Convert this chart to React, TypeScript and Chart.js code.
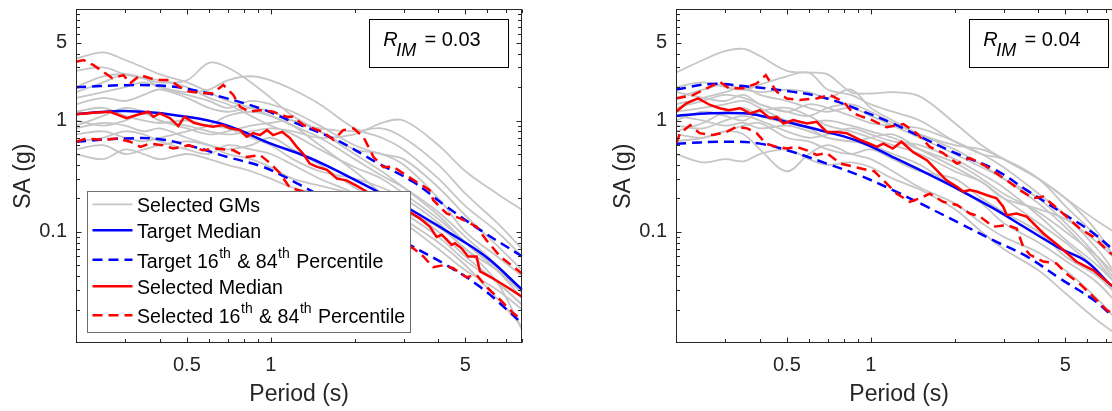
import React, { useEffect, useRef } from "react";
import { Chart, registerables } from "chart.js";
Chart.register(...registerables);

const FONT = "'Liberation Sans', Arial, Helvetica, sans-serif";
Chart.defaults.font.family = FONT;

// ---------- tick values ----------
const X_MAJOR = [0.5, 1, 5];
const X_MINOR = [0.2, 0.3, 0.4, 0.6, 0.7, 0.8, 0.9, 2, 3, 4, 6, 7, 8];
const Y_MAJOR = [0.1, 1, 5];
const Y_MINOR = [0.02, 0.03, 0.04, 0.05, 0.06, 0.07, 0.08, 0.09, 0.2, 0.3, 0.4, 0.5, 0.6, 0.7, 0.8, 0.9, 2, 3, 4, 6, 7, 8, 9];

// ---------- common period grid for selected ground motions ----------
const GM_T = [0.2, 0.25, 0.3, 0.35, 0.4, 0.5, 0.6, 0.7, 0.85, 1, 1.2, 1.5, 2, 2.5, 3, 4, 5, 6.5, 8];

// ================= LEFT PANEL (R_IM = 0.03) =================
const gmL = [
  [3.6, 4.1, 3.5, 3.0, 2.6, 2.2, 1.8, 1.5, 1.3, 1.1, 0.9, 0.7, 0.45, 0.32, 0.25, 0.15, 0.09, 0.05, 0.03],
  [2.0, 2.5, 2.6, 2.4, 2.2, 2.3, 3.3, 3.0, 2.2, 1.6, 1.1, 0.8, 0.5, 0.35, 0.25, 0.14, 0.08, 0.045, 0.028],
  [1.6, 1.8, 2.0, 2.2, 2.0, 1.8, 1.9, 2.3, 2.5, 2.3, 1.9, 1.4, 0.85, 0.7, 0.55, 0.3, 0.17, 0.1, 0.06],
  [0.9, 1.1, 1.3, 1.2, 1.0, 0.9, 0.8, 0.75, 0.8, 0.85, 0.8, 0.7, 0.75, 0.95, 1.0, 0.6, 0.35, 0.22, 0.157],
  [1.4, 1.6, 1.5, 1.7, 1.9, 1.6, 1.3, 1.2, 1.3, 1.2, 1.0, 0.85, 0.8, 0.85, 0.7, 0.4, 0.22, 0.12, 0.07],
  [1.2, 1.3, 1.1, 1.0, 0.95, 1.0, 0.9, 0.85, 0.7, 0.6, 0.45, 0.35, 0.3, 0.25, 0.2, 0.12, 0.07, 0.045, 0.03],
  [0.75, 0.8, 0.7, 0.65, 0.7, 0.8, 0.9, 1.1, 1.2, 1.1, 0.9, 0.6, 0.35, 0.22, 0.15, 0.09, 0.055, 0.035, 0.022],
  [0.55, 0.6, 0.5, 0.55, 0.6, 0.65, 0.6, 0.55, 0.6, 0.7, 0.55, 0.4, 0.25, 0.18, 0.13, 0.08, 0.05, 0.025, 0.014],
  [0.5, 0.45, 0.55, 0.5, 0.45, 0.5, 0.45, 0.4, 0.35, 0.3, 0.25, 0.22, 0.2, 0.17, 0.15, 0.11, 0.07, 0.035, 0.013],
  [2.8, 3.0, 2.6, 2.4, 2.3, 2.0, 1.6, 1.4, 1.1, 0.9, 0.75, 0.55, 0.38, 0.3, 0.22, 0.13, 0.08, 0.045, 0.025],
  [1.0, 0.9, 1.0, 1.15, 1.0, 0.85, 0.75, 0.8, 0.9, 0.95, 1.0, 0.8, 0.55, 0.5, 0.4, 0.2, 0.1, 0.06, 0.04],
  [0.65, 0.7, 0.8, 0.75, 0.65, 0.55, 0.5, 0.6, 0.55, 0.5, 0.4, 0.3, 0.22, 0.15, 0.12, 0.07, 0.045, 0.03, 0.02],
  [1.8, 2.2, 2.6, 2.4, 2.0, 1.7, 1.5, 1.3, 1.5, 1.4, 1.2, 0.9, 0.6, 0.5, 0.45, 0.25, 0.14, 0.075, 0.045],
  [0.85, 0.95, 0.9, 0.8, 0.85, 0.7, 0.6, 0.5, 0.45, 0.38, 0.3, 0.26, 0.22, 0.2, 0.16, 0.1, 0.06, 0.035, 0.022],
];

const tgtMedT_L = [0.2, 0.3, 0.5, 0.7, 1.0, 1.3, 1.6, 2.3, 3.2, 4.8, 6, 8];
const tgtMed_L = [1.14, 1.22, 1.08, 0.9, 0.62, 0.49, 0.39, 0.245, 0.157, 0.085, 0.058, 0.03];
const tgtHiT_L = [0.2, 0.3, 0.4, 0.5, 0.66, 0.92, 1.2, 1.72, 2.4, 3.25, 4.28, 5.64, 8];
const tgtHi_L = [1.99, 2.08, 2.06, 1.93, 1.64, 1.28, 0.97, 0.67, 0.42, 0.28, 0.168, 0.104, 0.06];
const tgtLoT_L = [0.2, 0.3, 0.4, 0.53, 0.7, 0.92, 1.1, 1.27, 2.0, 3.16, 4.28, 5.64, 8];
const tgtLo_L = [0.645, 0.69, 0.68, 0.58, 0.47, 0.39, 0.32, 0.265, 0.145, 0.076, 0.05, 0.032, 0.015];

const selMedT_L = [0.2, 0.231, 0.265, 0.304, 0.33, 0.364, 0.379, 0.4, 0.435, 0.466, 0.49, 0.53, 0.57, 0.62, 0.67, 0.715, 0.776, 0.82, 0.866, 0.915, 0.97, 1.02, 1.1, 1.17, 1.24, 1.31, 1.38, 1.46, 1.59, 1.73, 1.87, 2.03, 2.21, 2.6, 3.16, 3.43, 3.73, 3.94, 4.11, 4.28, 4.46, 4.58, 4.84, 5.11, 5.48, 5.64, 6.29, 7.02, 8];
const selMed_L = [1.14, 1.175, 1.2, 1.05, 1.12, 1.2, 1.08, 1.16, 1.05, 0.89, 1.08, 0.955, 0.91, 0.88, 0.91, 0.85, 0.82, 0.715, 0.77, 0.74, 0.82, 0.74, 0.79, 0.7, 0.58, 0.5, 0.41, 0.385, 0.36, 0.3, 0.29, 0.26, 0.23, 0.19, 0.15, 0.132, 0.111, 0.09, 0.094, 0.085, 0.076, 0.079, 0.071, 0.06, 0.06, 0.044, 0.038, 0.032, 0.026];
const selHiT_L = [0.2, 0.213, 0.231, 0.25, 0.27, 0.296, 0.313, 0.34, 0.369, 0.4, 0.435, 0.47, 0.51, 0.57, 0.62, 0.676, 0.734, 0.776, 0.84, 0.915, 1.02, 1.14, 1.2, 1.31, 1.42, 1.54, 1.68, 1.82, 1.98, 2.15, 2.34, 2.54, 2.75, 2.99, 3.34, 3.72, 3.83, 4.28, 4.78, 5.48, 5.95, 6.66, 8];
const selHi_L = [3.38, 3.5, 3.15, 2.75, 2.4, 2.56, 2.16, 2.56, 2.4, 2.31, 2.31, 2.01, 1.82, 1.76, 1.76, 2.09, 1.7, 1.33, 1.2, 1.24, 1.2, 1.08, 1.08, 0.91, 0.85, 0.79, 0.67, 0.82, 0.85, 0.715, 0.47, 0.38, 0.385, 0.335, 0.28, 0.237, 0.193, 0.146, 0.132, 0.111, 0.084, 0.06, 0.042];
const selLoT_L = [0.2, 0.218, 0.25, 0.28, 0.313, 0.34, 0.369, 0.41, 0.447, 0.51, 0.57, 0.64, 0.734, 0.82, 0.915, 1.0, 1.08, 1.17, 1.3, 1.6, 2.0, 2.5, 3.25, 3.53, 3.83, 4.16, 4.52, 5.04, 5.48, 5.95, 6.66, 7.43, 8];
const selLo_L = [0.645, 0.69, 0.67, 0.69, 0.645, 0.58, 0.62, 0.6, 0.56, 0.6, 0.54, 0.56, 0.54, 0.47, 0.49, 0.41, 0.335, 0.25, 0.23, 0.18, 0.135, 0.1, 0.071, 0.06, 0.048, 0.05, 0.047, 0.039, 0.041, 0.032, 0.0245, 0.0185, 0.016];

// ================= RIGHT PANEL (R_IM = 0.04) =================
const gmR = [
  [2.7, 3.5, 4.2, 4.4, 3.8, 2.8, 2.7, 2.6, 1.8, 1.75, 1.8, 1.65, 0.95, 0.6, 0.45, 0.3, 0.2, 0.125, 0.09],
  [2.0, 2.2, 2.0, 1.9, 2.1, 2.5, 2.7, 1.9, 1.7, 1.4, 1.2, 1.0, 0.65, 0.5, 0.45, 0.3, 0.17, 0.09, 0.05],
  [1.6, 1.9, 2.1, 1.9, 1.8, 1.9, 1.8, 1.6, 1.9, 1.3, 1.0, 0.75, 0.55, 0.4, 0.3, 0.2, 0.12, 0.06, 0.03],
  [1.3, 1.5, 1.7, 1.6, 1.4, 1.2, 1.4, 1.3, 1.1, 0.95, 0.9, 0.85, 0.65, 0.5, 0.38, 0.22, 0.14, 0.07, 0.035],
  [1.2, 1.3, 1.4, 1.5, 1.3, 1.0, 0.95, 1.0, 0.9, 0.8, 0.7, 0.55, 0.42, 0.3, 0.22, 0.15, 0.1, 0.06, 0.035],
  [1.0, 1.2, 1.1, 1.0, 1.2, 1.3, 1.1, 0.9, 0.8, 0.7, 0.6, 0.5, 0.35, 0.28, 0.2, 0.12, 0.08, 0.045, 0.025],
  [0.9, 0.85, 1.0, 1.1, 1.0, 0.8, 0.7, 0.75, 0.85, 0.75, 0.65, 0.6, 0.45, 0.33, 0.25, 0.14, 0.085, 0.05, 0.03],
  [0.5, 0.42, 0.45, 0.43, 0.5, 0.55, 0.45, 0.4, 0.42, 0.38, 0.3, 0.24, 0.16, 0.1, 0.07, 0.045, 0.028, 0.016, 0.011],
  [0.75, 0.7, 0.8, 0.75, 0.55, 0.35, 0.5, 0.6, 0.5, 0.45, 0.35, 0.25, 0.18, 0.12, 0.09, 0.065, 0.045, 0.025, 0.014],
  [1.4, 1.6, 1.8, 2.0, 1.7, 1.5, 1.3, 1.2, 1.3, 1.1, 0.9, 0.7, 0.5, 0.38, 0.3, 0.18, 0.11, 0.055, 0.028],
  [1.1, 1.0, 0.9, 0.95, 0.85, 0.9, 0.8, 0.7, 0.65, 0.6, 0.5, 0.4, 0.25, 0.18, 0.12, 0.08, 0.055, 0.035, 0.02],
  [0.65, 0.7, 0.8, 0.9, 0.95, 0.7, 0.65, 0.55, 0.5, 0.55, 0.45, 0.35, 0.3, 0.2, 0.15, 0.1, 0.06, 0.04, 0.024],
  [1.8, 1.6, 1.5, 1.7, 1.4, 1.2, 1.1, 1.3, 1.4, 1.2, 0.95, 0.75, 0.6, 0.55, 0.45, 0.3, 0.2, 0.1, 0.045],
  [0.8, 0.95, 1.2, 1.3, 1.1, 0.95, 0.85, 0.7, 0.65, 0.7, 0.75, 0.55, 0.38, 0.28, 0.2, 0.16, 0.13, 0.08, 0.05],
];

const tgtMedT_R = [0.2, 0.265, 0.35, 0.42, 0.527, 0.695, 0.915, 1.2, 1.59, 2.09, 2.75, 3.63, 4.78, 5.95, 7.2, 8];
const tgtMed_R = [1.1, 1.16, 1.16, 1.08, 0.94, 0.79, 0.645, 0.47, 0.335, 0.237, 0.163, 0.107, 0.071, 0.054, 0.034, 0.028];
const tgtHiT_R = [0.2, 0.265, 0.35, 0.527, 0.695, 0.915, 1.2, 1.59, 2.09, 2.75, 3.63, 4.78, 6.3, 8];
const tgtHi_R = [1.9, 2.13, 2.04, 1.81, 1.58, 1.24, 0.94, 0.67, 0.49, 0.37, 0.237, 0.152, 0.097, 0.058];
const tgtLoT_R = [0.2, 0.3, 0.4, 0.527, 0.695, 0.915, 1.2, 1.59, 2.09, 2.75, 3.63, 4.78, 6.3, 7.2, 8];
const tgtLo_R = [0.62, 0.645, 0.62, 0.52, 0.41, 0.32, 0.237, 0.168, 0.119, 0.084, 0.06, 0.038, 0.0245, 0.0185, 0.015];

const selMedT_R = [0.2, 0.218, 0.24, 0.265, 0.287, 0.31, 0.34, 0.37, 0.4, 0.435, 0.46, 0.486, 0.527, 0.59, 0.64, 0.695, 0.755, 0.82, 0.915, 1.02, 1.05, 1.11, 1.2, 1.29, 1.42, 1.59, 1.72, 1.87, 2.04, 2.15, 2.27, 2.4, 2.6, 2.83, 2.99, 3.08, 3.34, 3.63, 4.16, 4.78, 5.47, 6.3, 7.2, 8];
const selMed_R = [1.2, 1.43, 1.58, 1.38, 1.29, 1.24, 1.29, 1.16, 1.24, 1.05, 1.08, 0.94, 1.01, 0.94, 0.975, 0.79, 0.79, 0.77, 0.67, 0.6, 0.58, 0.62, 0.56, 0.645, 0.52, 0.44, 0.36, 0.29, 0.254, 0.23, 0.237, 0.23, 0.214, 0.2, 0.168, 0.141, 0.146, 0.137, 0.097, 0.073, 0.054, 0.045, 0.034, 0.028];
const selHiT_R = [0.2, 0.231, 0.258, 0.287, 0.31, 0.349, 0.39, 0.42, 0.46, 0.5, 0.556, 0.64, 0.714, 0.8, 0.866, 0.915, 1.02, 1.14, 1.31, 1.46, 1.63, 1.82, 2.04, 2.27, 2.54, 2.83, 3.08, 3.43, 3.83, 4.16, 4.52, 5.04, 5.63, 6.3, 7.2, 8];
const selHi_R = [1.58, 1.7, 1.95, 2.23, 1.95, 1.95, 2.16, 2.56, 1.81, 1.58, 1.53, 1.58, 1.7, 1.47, 1.16, 1.1, 1.0, 0.87, 0.93, 0.77, 0.58, 0.51, 0.41, 0.46, 0.4, 0.335, 0.29, 0.237, 0.2, 0.207, 0.174, 0.137, 0.107, 0.09, 0.065, 0.055];
const selLoT_R = [0.2, 0.207, 0.225, 0.243, 0.272, 0.304, 0.33, 0.36, 0.39, 0.42, 0.46, 0.5, 0.54, 0.59, 0.64, 0.695, 0.78, 0.866, 0.97, 1.03, 1.11, 1.24, 1.38, 1.5, 1.63, 1.82, 2.04, 2.27, 2.47, 2.75, 3.08, 3.34, 3.53, 3.73, 4.16, 4.64, 5.04, 5.63, 6.3, 7.0, 8];
const selLo_R = [0.62, 0.77, 0.91, 0.77, 0.74, 0.79, 0.88, 0.85, 0.77, 0.62, 0.58, 0.56, 0.58, 0.54, 0.49, 0.51, 0.41, 0.385, 0.36, 0.35, 0.29, 0.22, 0.186, 0.2, 0.22, 0.186, 0.174, 0.146, 0.137, 0.111, 0.115, 0.107, 0.073, 0.062, 0.054, 0.052, 0.042, 0.034, 0.026, 0.02, 0.016];

// ---------- legend entries ----------
const LEGEND = [
  { parts: [["Selected GMs", 0]], color: "#c6c6c6", dash: [], width: 1.8 },
  { parts: [["Target Median", 0]], color: "#0000ff", dash: [], width: 2.5 },
  { parts: [["Target 16", 0], ["th", 1], [" & 84", 0], ["th", 1], [" Percentile", 0]], color: "#0000ff", dash: [10, 6], width: 2.5 },
  { parts: [["Selected Median", 0]], color: "#ff0000", dash: [], width: 2.5 },
  { parts: [["Selected 16", 0], ["th", 1], [" & 84", 0], ["th", 1], [" Percentile", 0]], color: "#ff0000", dash: [10, 6], width: 2.5 },
];
const LEGEND_BASELINES = [212.3, 238.3, 267.7, 294.3, 323.3];

const GRAY = "#c6c6c6";
const BLUE = "#0000ff";
const RED = "#ff0000";
const AX = "#262626";

function pts(xs: number[], ys: number[]) {
  return xs.map((x, i) => ({ x, y: ys[i] }));
}

function buildDatasets(gm: number[][], tm: [number[], number[]], th: [number[], number[]], tl: [number[], number[]], sm: [number[], number[]], sh: [number[], number[]], sl: [number[], number[]]) {
  const ds: any[] = [];
  gm.forEach((row) => {
    ds.push({ data: pts(GM_T, row), borderColor: GRAY, borderWidth: 1.8, tension: 0.35, order: 10 });
  });
  ds.push({ data: pts(tm[0], tm[1]), borderColor: BLUE, borderWidth: 2.5, tension: 0.4, order: 4 });
  ds.push({ data: pts(th[0], th[1]), borderColor: BLUE, borderWidth: 2.5, borderDash: [10, 6], tension: 0.4, order: 3 });
  ds.push({ data: pts(tl[0], tl[1]), borderColor: BLUE, borderWidth: 2.5, borderDash: [10, 6], tension: 0.4, order: 3 });
  ds.push({ data: pts(sm[0], sm[1]), borderColor: RED, borderWidth: 2.5, tension: 0, order: 2 });
  ds.push({ data: pts(sh[0], sh[1]), borderColor: RED, borderWidth: 2.5, borderDash: [10, 6], tension: 0, order: 1 });
  ds.push({ data: pts(sl[0], sl[1]), borderColor: RED, borderWidth: 2.5, borderDash: [10, 6], tension: 0, order: 1 });
  return ds;
}

const framePlugin = {
  id: "frame",
  afterDatasetsDraw(chart: any) {
    const { ctx, chartArea: a, scales } = chart;
    const x = scales.x, y = scales.y;
    const L = Math.round(a.left) + 0.5, R = Math.round(a.right) - 0.5;
    const T = Math.round(a.top) + 0.5, B = Math.round(a.bottom) - 0.5;
    ctx.save();
    ctx.strokeStyle = AX;
    ctx.lineWidth = 1;
    ctx.setLineDash([]);
    ctx.strokeRect(L, T, R - L, B - T);
    ctx.beginPath();
    const xt = (v: number, len: number) => {
      const p = Math.round(x.getPixelForValue(v)) + 0.5;
      ctx.moveTo(p, B); ctx.lineTo(p, B - len);
      ctx.moveTo(p, T); ctx.lineTo(p, T + len);
    };
    const yt = (v: number, len: number) => {
      const p = Math.round(y.getPixelForValue(v)) + 0.5;
      ctx.moveTo(L, p); ctx.lineTo(L + len, p);
      ctx.moveTo(R, p); ctx.lineTo(R - len, p);
    };
    X_MAJOR.forEach((v) => xt(v, 5));
    X_MINOR.forEach((v) => xt(v, 3.5));
    Y_MAJOR.forEach((v) => yt(v, 5));
    Y_MINOR.forEach((v) => yt(v, 3.5));
    ctx.stroke();
    ctx.restore();
  },
};

const annotPlugin = {
  id: "annot",
  afterDraw(chart: any) {
    const opts = chart.options.plugins.annot || {};
    const { ctx, chartArea: a } = chart;
    ctx.save();
    // R_IM box
    const bw = 139, bh = 48;
    const bx = Math.round(a.right - 14.3 - bw) + 0.5;
    const by = Math.round(a.top + 10) + 0.5;
    ctx.fillStyle = "#fff";
    ctx.fillRect(bx, by, bw, bh);
    ctx.strokeStyle = "#000";
    ctx.lineWidth = 1;
    ctx.strokeRect(bx, by, bw, bh);
    ctx.fillStyle = "#000";
    ctx.textBaseline = "alphabetic";
    ctx.textAlign = "left";
    ctx.font = `italic 20px ${FONT}`;
    const base = by + 26;
    ctx.fillText("R", bx + 13.7, base);
    const rw = ctx.measureText("R").width;
    ctx.font = `italic 18px ${FONT}`;
    ctx.fillText("IM", bx + 13.7 + rw - 1.5, base + 10.5);
    ctx.font = `20px ${FONT}`;
    ctx.fillText("= " + opts.rim, bx + 55, base);

    // Legend
    if (opts.legend) {
      const lx = Math.round(a.left + 10.7) + 0.5;
      const ly = Math.round(a.top + 181.4) + 0.5;
      const lw = 323, lh = 141;
      ctx.fillStyle = "#fff";
      ctx.fillRect(lx, ly, lw, lh);
      ctx.strokeStyle = "#6e6e6e";
      ctx.lineWidth = 1;
      ctx.strokeRect(lx, ly, lw, lh);
      LEGEND.forEach((e, i) => {
        const baseY = LEGEND_BASELINES[i] - 9.3 + a.top;
        const lineY = baseY - 8;
        ctx.strokeStyle = e.color;
        ctx.lineWidth = e.width;
        ctx.setLineDash(e.dash);
        ctx.beginPath();
        ctx.moveTo(lx + 5, lineY);
        ctx.lineTo(lx + 45, lineY);
        ctx.stroke();
        ctx.setLineDash([]);
        let tx = lx + 49.5;
        ctx.fillStyle = "#000";
        e.parts.forEach(([txt, sup]: any) => {
          if (sup) {
            ctx.font = `14px ${FONT}`;
            ctx.fillText(txt, tx + 0.5, baseY - 10);
            tx += ctx.measureText(txt).width + 1.5;
          } else {
            ctx.font = `19.6px ${FONT}`;
            ctx.fillText(txt, tx, baseY);
            tx += ctx.measureText(txt).width;
          }
        });
      });
    }
    ctx.restore();
  },
};

function Panel(props: { datasets: any[]; rim: string; legend: boolean; left: number }) {
  const ref = useRef<HTMLCanvasElement | null>(null);
  useEffect(() => {
    if (!ref.current) return;
    const chart = new Chart(ref.current, {
      type: "line",
      data: { datasets: props.datasets },
      options: {
        responsive: false,
        animation: false,
        devicePixelRatio: 1,
        layout: { padding: { top: 9.3, right: 77.7, left: 0, bottom: 0 } },
        elements: { point: { radius: 0 }, line: { borderCapStyle: "butt" } },
        plugins: {
          legend: { display: false },
          tooltip: { enabled: false },
          annot: { rim: props.rim, legend: props.legend },
        } as any,
        scales: {
          x: {
            type: "logarithmic",
            min: 0.2,
            max: 8,
            afterBuildTicks: (s: any) => {
              s.ticks = X_MAJOR.map((v) => ({ value: v }));
            },
            afterFit: (s: any) => {
              s.height = 68;
              s.paddingLeft = 0;
              s.paddingRight = 0;
              s.paddingTop = 0;
              s.paddingBottom = 0;
            },
            grid: { display: false, drawTicks: false },
            border: { display: false },
            ticks: {
              font: { size: 20, family: FONT },
              color: AX,
              padding: 10,
              autoSkip: false,
              maxRotation: 0,
              callback: (v: any) => String(v),
            },
            title: {
              display: true,
              text: "Period (s)",
              font: { size: 23, family: FONT },
              color: AX,
              padding: { top: 0, bottom: 3 },
            },
          },
          y: {
            type: "logarithmic",
            min: 0.01,
            max: 10,
            afterBuildTicks: (s: any) => {
              s.ticks = Y_MAJOR.map((v) => ({ value: v }));
            },
            afterFit: (s: any) => {
              s.width = 76;
              s.paddingLeft = 0;
              s.paddingRight = 0;
              s.paddingTop = 0;
              s.paddingBottom = 0;
            },
            grid: { display: false, drawTicks: false },
            border: { display: false },
            ticks: {
              font: { size: 20, family: FONT },
              color: AX,
              padding: 9,
              autoSkip: false,
              callback: (v: any) => String(v),
            },
            title: {
              display: true,
              text: "SA (g)",
              font: { size: 23, family: FONT },
              color: AX,
              padding: { top: 10, bottom: 0 },
            },
          },
        },
      } as any,
      plugins: [framePlugin, annotPlugin],
    });
    return () => chart.destroy();
  }, []);
  return (
    <canvas
      ref={ref}
      width={600}
      height={411}
      style={{ position: "absolute", left: props.left, top: 0, width: 600, height: 411 }}
    />
  );
}

export default function App() {
  const dsL = buildDatasets(gmL, [tgtMedT_L, tgtMed_L], [tgtHiT_L, tgtHi_L], [tgtLoT_L, tgtLo_L], [selMedT_L, selMed_L], [selHiT_L, selHi_L], [selLoT_L, selLo_L]);
  const dsR = buildDatasets(gmR, [tgtMedT_R, tgtMed_R], [tgtHiT_R, tgtHi_R], [tgtLoT_R, tgtLo_R], [selMedT_R, selMed_R], [selHiT_R, selHi_R], [selLoT_R, selLo_R]);
  return (
    <div style={{ position: "absolute", left: 0, top: 0, width: 1112, height: 411, overflow: "hidden", background: "#fff" }}>
      <Panel datasets={dsL} rim="0.03" legend={true} left={0} />
      <Panel datasets={dsR} rim="0.04" legend={false} left={600} />
    </div>
  );
}
